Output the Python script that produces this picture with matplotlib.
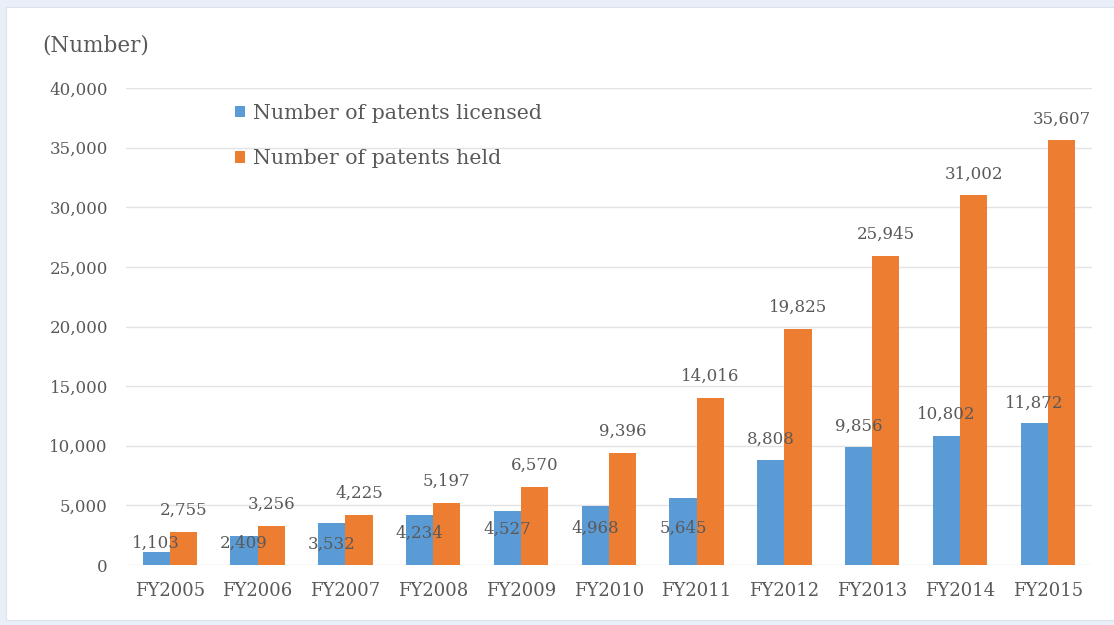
import matplotlib.pyplot as plt
from matplotlib.patches import Rectangle
import numpy as np

# data
years = ["FY2005", "FY2006", "FY2007", "FY2008", "FY2009", "FY2010",
         "FY2011", "FY2012", "FY2013", "FY2014", "FY2015"]
licensed = [1103, 2409, 3532, 4234, 4527, 4968, 5645, 8808, 9856, 10802, 11872]
held = [2755, 3256, 4225, 5197, 6570, 9396, 14016, 19825, 25945, 31002, 35607]

# where the licensed labels sit in the original (centre, data units)
lic_label_at = [1840, 1840, 1760, 2680, 3010, 3100, 3100, 10550, 11640, 12650, 13570]

BLUE = "#5b9bd5"
ORANGE = "#ed7d31"
TXT = "#595959"

plt.rcParams['font.family'] = ["DejaVu Serif"]

fig = plt.figure(figsize=(11.14, 6.25), dpi=100)
fig.patch.set_facecolor("#e9eff9")
fig.add_artist(Rectangle((6 / 1114, 5 / 625), 1 - 6 / 1114, 613 / 625,
                         transform=fig.transFigure, facecolor="white",
                         edgecolor="#dde2ea", linewidth=0.8, zorder=-5))

ax = fig.add_axes([0.113, 0.096, 0.867, 0.763])
ax.set_facecolor("none")

x = np.arange(len(years))
w = 0.31
ax.bar(x - w / 2, licensed, w, color=BLUE, label="Number of patents licensed", zorder=2)
ax.bar(x + w / 2, held, w, color=ORANGE, label="Number of patents held", zorder=2)

for i in range(len(years)):
    ax.text(x[i] - w / 2, lic_label_at[i], f"{licensed[i]:,}", ha="center", va="center",
            fontsize=12, color=TXT, zorder=3)
    ax.text(x[i] + w / 2, held[i] + 1800, f"{held[i]:,}", ha="center", va="center",
            fontsize=12, color=TXT, zorder=3)

ax.set_xlim(-0.5, len(years) - 0.5)
ax.set_ylim(0, 40000)
ax.set_yticks(range(0, 40001, 5000))
ax.set_yticklabels([f"{v:,}" for v in range(0, 40001, 5000)])
ax.set_xticks(x)
ax.set_xticklabels(years)
ax.tick_params(axis="both", length=0, labelcolor=TXT)
ax.tick_params(axis="y", pad=13, labelsize=12)
ax.tick_params(axis="x", pad=12, labelsize=13)
ax.grid(axis="y", color="#e3e3e3", linewidth=1, zorder=0)
for s in ax.spines.values():
    s.set_visible(False)

fig.text(0.038, 0.927, "(Number)", fontsize=15.5, color=TXT, va="center")

leg = ax.legend(loc="upper left", bbox_to_anchor=(0.094, 1.006), frameon=False,
                handlelength=0.5, handleheight=0.5, handletextpad=0.35,
                labelspacing=1.3, prop={"size": 14.8})
for t in leg.get_texts():
    t.set_color(TXT)

fig.savefig("out.png", dpi=100, facecolor=fig.get_facecolor())
